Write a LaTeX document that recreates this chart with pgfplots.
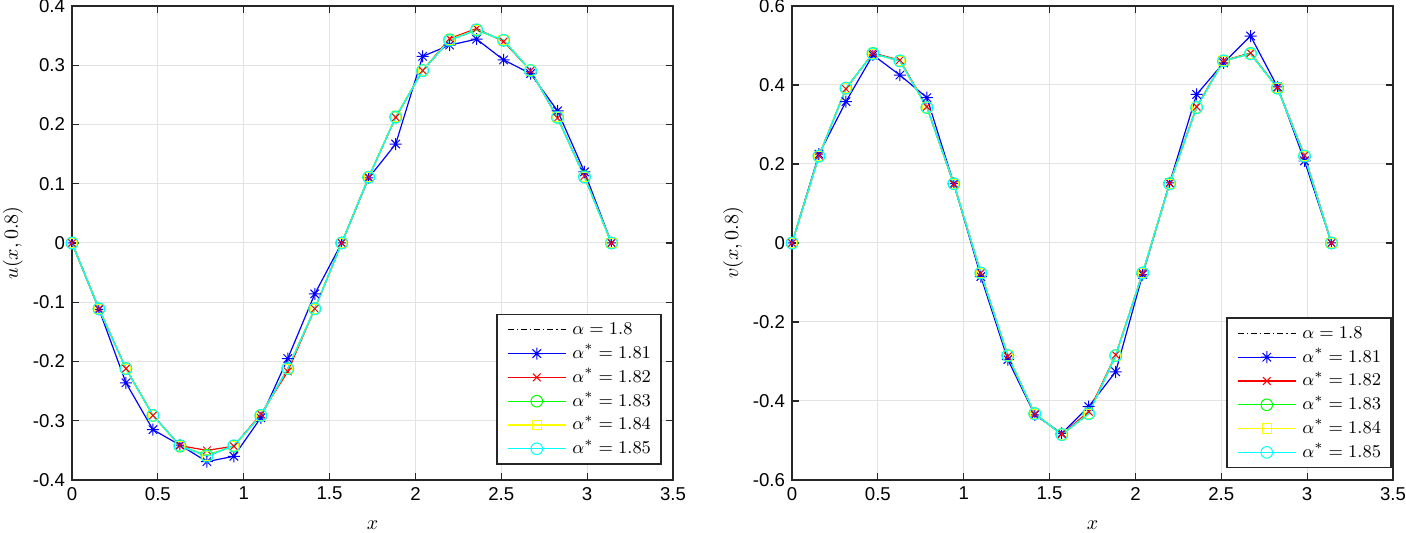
\documentclass[border=0pt]{standalone}
\usepackage{pgfplots}
\pgfplotsset{compat=1.18}
\usepackage{pgfplotstable}
\usepackage{fontspec}
\newfontfamily\tickfont{Liberation Sans}
\definecolor{axc}{gray}{0.15}
\definecolor{gridc}{gray}{0.89}
\definecolor{mblue}{rgb}{0,0,1}
\definecolor{mred}{rgb}{1,0,0}
\definecolor{mgreen}{rgb}{0,1,0}
\definecolor{myellow}{rgb}{1,1,0}
\definecolor{mcyan}{rgb}{0,1,1}

\pgfdeclareplotmark{mstar}{%
  \pgfpathmoveto{\pgfqpoint{-\pgfplotmarksize}{0pt}}\pgfpathlineto{\pgfqpoint{\pgfplotmarksize}{0pt}}%
  \pgfpathmoveto{\pgfqpoint{0pt}{-\pgfplotmarksize}}\pgfpathlineto{\pgfqpoint{0pt}{\pgfplotmarksize}}%
  \pgfpathmoveto{\pgfqpoint{-0.707\pgfplotmarksize}{-0.707\pgfplotmarksize}}\pgfpathlineto{\pgfqpoint{0.707\pgfplotmarksize}{0.707\pgfplotmarksize}}%
  \pgfpathmoveto{\pgfqpoint{-0.707\pgfplotmarksize}{0.707\pgfplotmarksize}}\pgfpathlineto{\pgfqpoint{0.707\pgfplotmarksize}{-0.707\pgfplotmarksize}}%
  \pgfusepathqstroke}

\pgfplotstableread{
x a b r g y c
0      0      0      0      0      0      0
0.1571 -0.111 -0.112 -0.111 -0.111 -0.111 -0.111
0.3142 -0.212 -0.236 -0.212 -0.212 -0.212 -0.212
0.4712 -0.291 -0.315 -0.291 -0.291 -0.291 -0.291
0.6283 -0.342 -0.341 -0.342 -0.343 -0.343 -0.342
0.7854 -0.360 -0.369 -0.350 -0.358 -0.359 -0.360
0.9425 -0.342 -0.360 -0.343 -0.343 -0.343 -0.342
1.0996 -0.291 -0.295 -0.289 -0.291 -0.291 -0.291
1.2566 -0.212 -0.195 -0.217 -0.212 -0.212 -0.212
1.4137 -0.111 -0.086 -0.111 -0.111 -0.111 -0.111
1.5708 0      0      0      0      0      0
1.7279 0.111  0.110  0.111  0.111  0.111  0.111
1.8850 0.212  0.167  0.212  0.213  0.212  0.212
2.0420 0.291  0.315  0.291  0.291  0.291  0.291
2.1991 0.342  0.334  0.345  0.343  0.343  0.342
2.3562 0.360  0.344  0.362  0.359  0.360  0.360
2.5133 0.342  0.309  0.340  0.342  0.342  0.342
2.6704 0.291  0.286  0.291  0.291  0.291  0.291
2.8274 0.212  0.223  0.211  0.212  0.212  0.212
2.9845 0.111  0.120  0.113  0.112  0.111  0.111
3.1416 0      0      0      0      0      0
}\udata

\pgfplotstableread{
x a b r g y c
0      0      0      0      0      0      0
0.1571 0.220  0.225  0.221  0.220  0.220  0.220
0.3142 0.392  0.358  0.390  0.392  0.392  0.392
0.4712 0.479  0.476  0.481  0.480  0.479  0.479
0.6283 0.461  0.425  0.463  0.461  0.461  0.461
0.7854 0.343  0.368  0.345  0.343  0.343  0.343
0.9425 0.150  0.150  0.148  0.150  0.150  0.150
1.0996 -0.076 -0.085 -0.076 -0.076 -0.076 -0.076
1.2566 -0.285 -0.295 -0.287 -0.285 -0.285 -0.285
1.4137 -0.432 -0.435 -0.433 -0.432 -0.432 -0.432
1.5708 -0.485 -0.482 -0.484 -0.485 -0.485 -0.485
1.7279 -0.432 -0.414 -0.427 -0.432 -0.432 -0.432
1.8850 -0.285 -0.326 -0.283 -0.285 -0.285 -0.285
2.0420 -0.076 -0.080 -0.076 -0.076 -0.076 -0.076
2.1991 0.150  0.152  0.151  0.150  0.150  0.150
2.3562 0.343  0.376  0.345  0.343  0.343  0.343
2.5133 0.461  0.456  0.462  0.461  0.461  0.461
2.6704 0.479  0.524  0.481  0.480  0.479  0.479
2.8274 0.392  0.395  0.393  0.392  0.392  0.392
2.9845 0.220  0.208  0.222  0.220  0.220  0.220
3.1416 0      0      0      0      0      0
}\vdata

\pgfplotsset{
  myaxis/.style={
    scale only axis, width=300.5pt, height=237pt,
    xmin=0, xmax=3.5,
    xtick={0,0.5,...,3.5},
    xticklabels={0,0.5,1,1.5,2,2.5,3,3.5},
    tick align=inside, major tick length=3.5pt,
    axis line style={axc, line width=0.8pt},
    every tick/.style={axc, line width=0.6pt},
    grid=major, major grid style={gridc, line width=0.5pt},
    tick label style={font=\tickfont\fontsize{9.3}{11}\selectfont, text=black},
    every axis x label/.style={at={([yshift=-22.5pt]axis description cs:0.5,0)}, anchor=center, font=\fontsize{10}{12}\selectfont},
    every axis y label/.style={at={([xshift=-29.5pt]axis description cs:0,0.5)}, anchor=center, rotate=90, font=\fontsize{10}{12}\selectfont},
    legend style={at={(1,0)}, anchor=south east,
      draw=axc, line width=0.8pt, font=\fontsize{9.5}{11}\selectfont,
      inner xsep=5pt, inner ysep=2.6pt, row sep=1.9pt, column sep=3pt,
      nodes={inner sep=0pt, text height=7.5pt, text depth=2.5pt}},
    legend cell align=left,
    legend image code/.code={\draw[mark repeat=2,mark phase=2] plot coordinates {(0pt,0pt) (14.5pt,0pt) (29pt,0pt)};},
  },
  sa/.style={black, line width=0.6pt, dash pattern=on 3pt off 1.5pt on 0.6pt off 1.5pt, no marks},
  sb/.style={mblue, line width=0.6pt, mark=mstar, mark size=3pt, mark options={solid, line width=0.5pt}},
  sr/.style={mred, line width=0.6pt, mark=x, mark size=2.7pt, mark options={solid, line width=0.5pt}},
  sg/.style={mgreen, line width=0.6pt, mark=o, mark size=2.9pt, mark options={solid, line width=0.5pt}},
  sy/.style={myellow, line width=0.6pt, mark=square, mark size=2.3pt, mark options={solid, line width=0.5pt}},
  sc/.style={mcyan, line width=0.6pt, mark=o, mark size=2.9pt, mark options={solid, line width=0.5pt}},
}

\begin{document}
\begin{tikzpicture}
\path[use as bounding box] (-36pt,-26.5pt) rectangle (667pt,240pt);
\begin{axis}[myaxis, at={(0pt,0pt)}, anchor=south west,
  ymin=-0.4, ymax=0.4,
  ytick={-0.4,-0.3,...,0.4},
  yticklabels={-0.4,-0.3,-0.2,-0.1,0,0.1,0.2,0.3,0.4},
  legend style={xshift=-5.6pt, yshift=7.6pt},
  xlabel={$x$}, ylabel={$u(x,0.8)$}]
\addplot[sa] table[x=x,y=a] {\udata};
\addplot[sb] table[x=x,y=b] {\udata};
\addplot[sr] table[x=x,y=r] {\udata};
\addplot[sg] table[x=x,y=g] {\udata};
\addplot[sy] table[x=x,y=y] {\udata};
\addplot[sc] table[x=x,y=c] {\udata};
\legend{$\alpha=1.8$,$\alpha^*=1.81$,$\alpha^*=1.82$,$\alpha^*=1.83$,$\alpha^*=1.84$,$\alpha^*=1.85$}
\end{axis}
\begin{axis}[myaxis, at={(360pt,0pt)}, anchor=south west,
  ymin=-0.6, ymax=0.6,
  ytick={-0.6,-0.4,...,0.6},
  yticklabels={-0.6,-0.4,-0.2,0,0.2,0.4,0.6},
  legend style={xshift=-0.6pt, yshift=5.8pt},
  xlabel={$x$}, ylabel={$v(x,0.8)$}]
\addplot[sa] table[x=x,y=a] {\vdata};
\addplot[sb] table[x=x,y=b] {\vdata};
\addplot[sr] table[x=x,y=r] {\vdata};
\addplot[sg] table[x=x,y=g] {\vdata};
\addplot[sy] table[x=x,y=y] {\vdata};
\addplot[sc] table[x=x,y=c] {\vdata};
\legend{$\alpha=1.8$,$\alpha^*=1.81$\hspace{3.5pt},$\alpha^*=1.82$,$\alpha^*=1.83$,$\alpha^*=1.84$,$\alpha^*=1.85$}
\end{axis}
\end{tikzpicture}
\end{document}
